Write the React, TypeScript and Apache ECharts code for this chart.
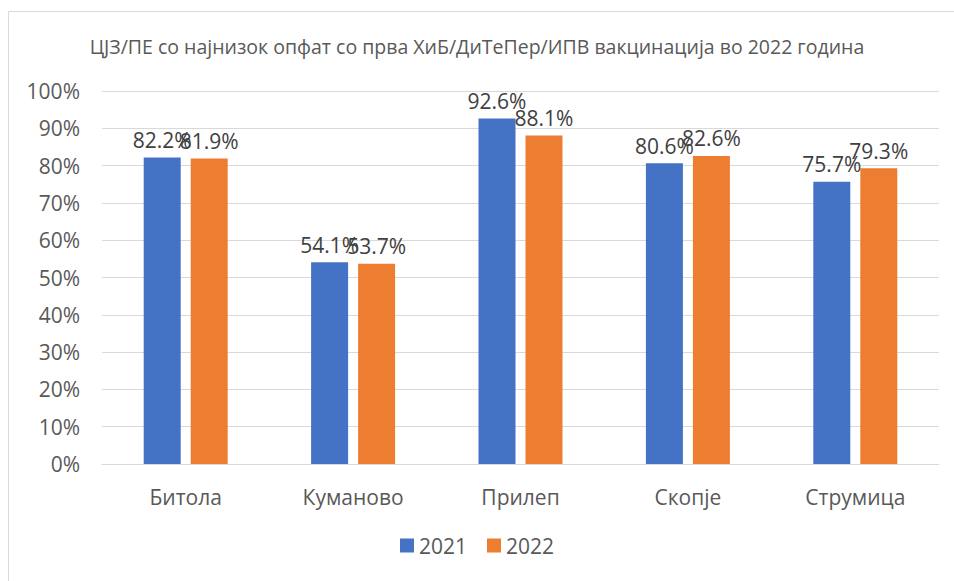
import React, { useEffect, useRef } from "react";
import * as echarts from "echarts";

const categories = ["Битола", "Куманово", "Прилеп", "Скопје", "Струмица"];
const series2021 = [82.2, 54.1, 92.6, 80.6, 75.7];
const series2022 = [81.9, 53.7, 88.1, 82.6, 79.3];
const seriesNames = ["2021", "2022"];
const titleText = "ЦЈЗ/ПЕ со најнизок опфат со прва ХиБ/ДиТеПер/ИПВ вакцинација во 2022 година";

const FONT = "'Open Sans', 'Noto Sans', sans-serif";
const TEXT = "#595959";

export default function App() {
  const ref = useRef<HTMLDivElement>(null);
  useEffect(() => {
    if (!ref.current) return;
    const chart = echarts.init(ref.current, undefined, { renderer: "svg" });
    const label = {
      show: true,
      position: "top" as const,
      distance: 7,
      color: "#404040",
      fontSize: 21,
      fontFamily: FONT,
      formatter: (p: any) => `${Number(p.value).toFixed(1)}%`,
    };
    chart.setOption({
      animation: false,
      backgroundColor: "#ffffff",
      title: {
        text: titleText,
        left: "center",
        top: 31,
        textStyle: { color: TEXT, fontSize: 19.5, fontWeight: "normal", fontFamily: FONT },
      },
      graphic: [
        {
          type: "rect",
          shape: { x: 8.5, y: 11.5, width: 960, height: 600 },
          style: { fill: "none", stroke: "#D9D9D9", lineWidth: 1 },
          silent: true,
        },
      ],
      legend: {
        bottom: 20,
        left: "center",
        itemWidth: 14,
        itemHeight: 14,
        itemGap: 20,
        icon: "rect",
        textStyle: { color: TEXT, fontSize: 21, fontFamily: FONT },
        data: seriesNames,
      },
      grid: { left: 102, right: 15, top: 91, bottom: 117 },
      xAxis: {
        type: "category",
        data: categories,
        axisLine: { lineStyle: { color: "#D9D9D9" } },
        axisTick: { show: false },
        axisLabel: { color: TEXT, fontSize: 21, fontFamily: FONT, margin: 22 },
      },
      yAxis: {
        type: "value",
        min: 0,
        max: 100,
        interval: 10,
        axisLine: { show: false },
        axisTick: { show: false },
        splitLine: { lineStyle: { color: "#D9D9D9" } },
        axisLabel: {
          color: TEXT,
          fontSize: 21,
          fontFamily: FONT,
          margin: 22,
          formatter: (v: number) => `${v}%`,
        },
      },
      series: [
        {
          name: seriesNames[0],
          type: "bar",
          data: series2021,
          itemStyle: { color: "#4472C4" },
          barWidth: 37,
          barGap: "27%",
          label,
        },
        {
          name: seriesNames[1],
          type: "bar",
          data: series2022,
          itemStyle: { color: "#ED7D31" },
          barWidth: 37,
          label,
        },
      ],
    });
    return () => chart.dispose();
  }, []);
  return (
    <div
      ref={ref}
      style={{ position: "fixed", left: 0, top: 0, width: 954, height: 581 }}
    />
  );
}
